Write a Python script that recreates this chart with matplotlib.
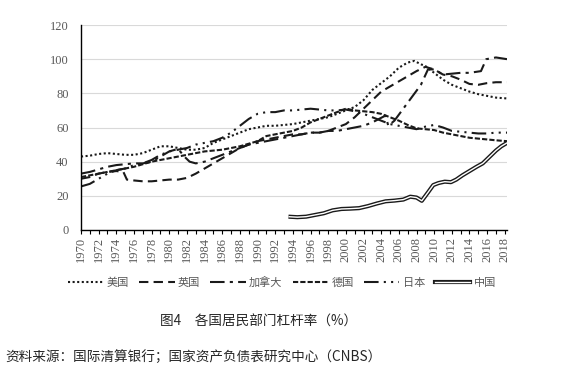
import numpy as np
import matplotlib
matplotlib.use("Agg")
import matplotlib.pyplot as plt
from matplotlib.lines import Line2D

# data (household debt / GDP, %)
us_years = [1970, 1971, 1972, 1973, 1974, 1975, 1976, 1977, 1978, 1979, 1980, 1981, 1982, 1983, 1984,
            1985, 1986, 1987, 1988, 1989, 1990, 1991, 1992, 1993, 1994, 1995, 1996, 1997, 1998, 1999,
            2000, 2001, 2002, 2003, 2004, 2005, 2006, 2007, 2007.75, 2008.5, 2009, 2010, 2011, 2012,
            2013, 2014, 2015, 2016, 2017, 2018.25]
us_vals = [43, 43.5, 44.5, 45, 44.5, 44, 44, 45, 47, 49, 49, 48, 47, 47, 48,
           51, 53, 55, 57, 59, 60, 61, 61, 61.5, 62, 63, 64, 65, 66, 68,
           70, 72, 76, 82, 86, 90, 95, 98, 99, 97, 96, 92, 88, 85,
           83, 81, 79.5, 78.5, 77.5, 77]

uk_years = [1970, 1971, 1972, 1973, 1974, 1974.8, 1975.2, 1976, 1977, 1978, 1979, 1980, 1981, 1982,
            1983, 1984, 1985, 1986, 1987, 1988, 1989, 1990, 1991, 1992, 1993, 1994, 1995, 1996, 1997,
            1998, 1999, 2000, 2001, 2002, 2003, 2004, 2005, 2006, 2007, 2008, 2009, 2010, 2011, 2012,
            2013, 2014, 2015, 2016, 2017, 2018.25]
uk_vals = [30, 31, 33, 34, 34.5, 34, 29.5, 29, 28.5, 28.5, 29, 29.5, 29.5, 30.5,
           33, 36, 39, 42, 45, 48, 50, 52, 53, 54, 55, 56, 56, 57, 57,
           58, 60, 62, 66, 71, 76, 81, 84, 87, 90, 93, 95.5, 94, 91, 90,
           88, 85.5, 85, 86, 86.5, 86.5]

ca_years = [1970, 1971, 1972, 1973, 1974, 1975, 1976, 1977, 1978, 1979, 1980, 1981, 1981.7, 1982.3,
            1983, 1984, 1985, 1986, 1987, 1988, 1989, 1990, 1991, 1992, 1993, 1994, 1995, 1996, 1997,
            1998, 1999, 2000, 2001, 2002, 2003, 2004.5, 2004.8, 2005.5, 2006.5, 2007.5, 2008.5, 2009.3,
            2010, 2011, 2012, 2013, 2014, 2015.3, 2015.9, 2017, 2018.25]
ca_vals = [33, 34, 35.5, 37, 38, 38.5, 39, 39, 40, 43, 46, 47.5, 43, 40,
           39, 40, 42, 44, 46, 48, 50, 51, 52, 53, 54, 55, 56, 57, 57,
           58, 58, 59, 60, 61, 63, 67, 61, 64, 71, 78, 85, 94,
           94, 91, 91.5, 92, 92, 93, 100, 101, 100]

de_years = [1970, 1972, 1974, 1976, 1978, 1980, 1982, 1984, 1986, 1988, 1990, 1991, 1992, 1993, 1994,
            1995, 1996, 1997, 1998, 1999, 2000, 2001, 2002, 2003, 2004, 2005, 2006, 2007, 2008, 2009,
            2010, 2011, 2012, 2013, 2014, 2015, 2016, 2017, 2018.25]
de_vals = [31, 33, 35, 37, 40, 42, 44, 46, 47, 49, 52, 55, 56, 57, 58,
           60, 63, 65, 67, 69, 71, 70, 69.5, 69, 68, 66, 64, 61.5, 59.5, 59,
           58.5, 57, 56, 55, 54, 53.5, 53, 52.5, 52]

jp_years = [1970, 1971, 1972, 1973, 1974, 1975, 1976, 1977, 1978, 1979, 1980, 1981, 1982, 1983, 1984,
            1985, 1986, 1987, 1988, 1989, 1990, 1991, 1992, 1993, 1994, 1995, 1996, 1997, 1998, 1999,
            2000, 2001, 2002, 2003, 2004, 2005, 2006, 2007, 2008, 2009, 2010, 2011, 2012, 2013, 2014,
            2015, 2016, 2017, 2018.25]
jp_vals = [25.5, 27, 30, 33, 35, 36, 38, 39, 41, 44, 46, 47, 48, 50, 51,
           52, 54, 57, 61, 65, 68, 69, 69, 70, 70, 70.5, 71, 70.5, 70, 70,
           70.5, 69.5, 68, 66, 64, 62, 61, 60, 59, 60.5, 61.5, 60, 58, 57.5, 57,
           56.5, 56.5, 57, 57]

cn_years = [1993.5, 1994.5, 1995.5, 1996.5, 1997.5, 1998.5, 1999.5, 2000.5, 2001.5, 2002.5, 2003.5,
            2004.5, 2005.5, 2006.5, 2007.3, 2008.0, 2008.6, 2009.3, 2009.9, 2010.5, 2011.2, 2011.9,
            2012.5, 2013.2, 2014, 2014.8, 2015.5, 2016.3, 2017, 2017.6, 2018.25]
cn_vals = [7.8, 7.5, 7.8, 8.8, 9.8, 11.5, 12.3, 12.5, 12.8, 14, 15.5,
           16.8, 17.2, 17.8, 19.5, 19, 17.1, 22, 26.3, 27.5, 28.3, 28,
           29.5, 32, 34.5, 37, 39, 43, 46.5, 49, 51]

labels = ["美国", "英国", "加拿大", "德国", "日本", "中国"]

cjk = ["Noto Sans CJK SC", "DejaVu Sans"]
tick_font = "Liberation Serif"
grey = "#595959"
ink = "#1a1a1a"

fig = plt.figure(figsize=(5.64, 3.80), dpi=100)
ax = fig.add_axes([81 / 564, 1 - 230 / 380, 426 / 564, 205 / 380])

lw = 1.5
h_us, = ax.plot(us_years, us_vals, color=ink, lw=lw, linestyle=(0, (1, 1.2)))
h_uk, = ax.plot(uk_years, uk_vals, color=ink, lw=lw, linestyle=(0, (4.5, 2.5)))
h_ca, = ax.plot(ca_years, ca_vals, color=ink, lw=lw, linestyle=(0, (7, 2.5, 1.5, 2.5)))
h_de, = ax.plot(de_years, de_vals, color=ink, lw=lw, linestyle=(0, (2.5, 1)))
h_jp, = ax.plot(jp_years, jp_vals, color=ink, lw=lw, linestyle=(0, (7, 2.5, 1, 2.5, 1, 2.5)))
ax.plot(cn_years, cn_vals, color=ink, lw=3.0, solid_capstyle="butt")
ax.plot(cn_years, cn_vals, color="white", lw=1.0, solid_capstyle="butt")

ax.set_xlim(1970, 2018.25)
ax.set_ylim(0, 120)
ax.set_yticks(range(0, 121, 20))
ax.yaxis.grid(True, color="#d9d9d9", lw=0.8)
ax.set_axisbelow(True)

years = list(range(1970, 2019))
ax.set_xticks(years)
ax.set_xticklabels([str(y) if y % 2 == 0 else "" for y in years], rotation=90)

for s in ["top", "right"]:
    ax.spines[s].set_visible(False)
ax.spines["left"].set_color("black")
ax.spines["bottom"].set_color("black")
ax.spines["left"].set_linewidth(1.0)
ax.spines["bottom"].set_linewidth(1.0)

ax.tick_params(axis="y", length=0, pad=9, labelsize=9, labelcolor=grey)
ax.tick_params(axis="x", length=3, width=0.8, direction="out", pad=2, labelsize=9, labelcolor=grey)
for t in ax.get_xticklabels() + ax.get_yticklabels():
    t.set_fontfamily(tick_font)

# legend, China drawn as a double line
cn_outer = Line2D([], [], color=ink, lw=3.0)
cn_inner = Line2D([], [], color="white", lw=1.0)
leg = fig.legend([h_us, h_uk, h_ca, h_de, h_jp, (cn_outer, cn_inner)], labels,
                 loc="center", bbox_to_anchor=(282 / 564, 1 - 282 / 380), ncol=6, frameon=False,
                 handlelength=3.2, handletextpad=0.3, columnspacing=0.9,
                 prop={"family": cjk, "size": 8})
for t in leg.get_texts():
    t.set_color(grey)

fig.text(259 / 564, 1 - 322 / 380, "图4　各国居民部门杠杆率（%）", ha="center", va="center",
         family=cjk, fontsize=9.8, color="#262626")
fig.text(5 / 564, 1 - 357 / 380, "资料来源：国际清算银行；国家资产负债表研究中心（CNBS）", ha="left", va="center",
         family=cjk, fontsize=9.8, color="#262626")

fig.savefig("out.png", dpi=100)
